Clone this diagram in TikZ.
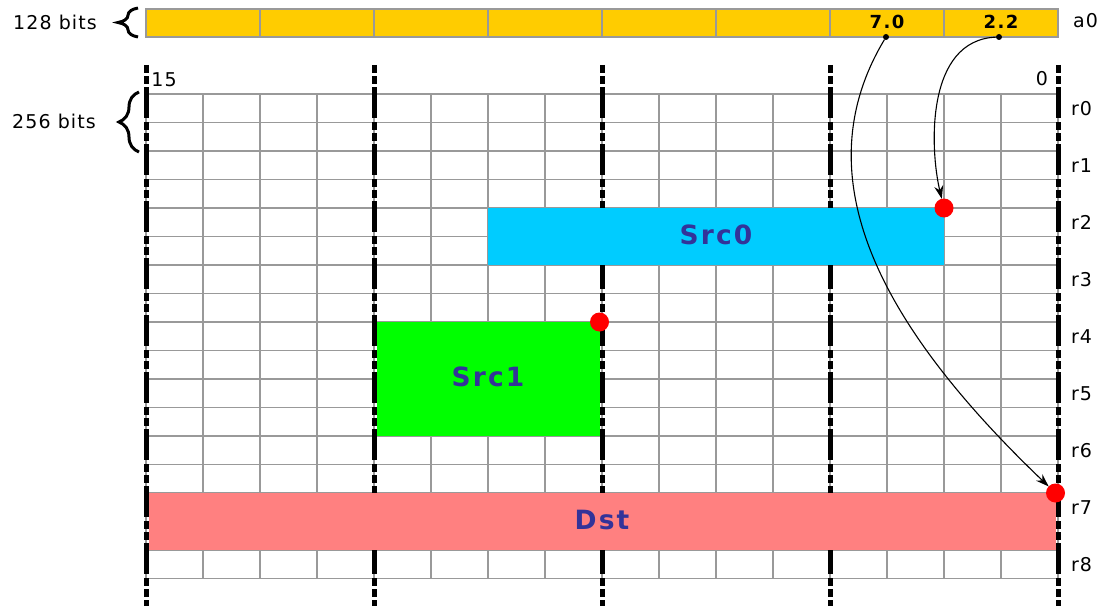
\documentclass[tikz,border=0pt]{standalone}
\usepackage{fontspec}
\setmainfont{DejaVu Sans}
\usetikzlibrary{positioning, arrows.meta, decorations.pathreplacing}
\definecolor{clBAR} {HTML}{FFCC00}
\definecolor{clSRC0}{HTML}{00CCFF}
\definecolor{clSRC1}{HTML}{00FF00}
\definecolor{clDST} {HTML}{FF8080}
\definecolor{clNAME}{HTML}{333399}
\definecolor{clGRID}{HTML}{999999}
\definecolor{clHOT} {HTML}{FF0000}

\begin{document}
\begin{tikzpicture}[
    x=1pt, y=-1pt,
    every node/.style={font=\fontsize{19}{22}\selectfont\addfontfeature{LetterSpace=6},
        text=black, inner sep=0pt, outer sep=0pt},
    gridline/.style={draw=clGRID, line width=1.5pt},
    laneline/.style={draw=black, line width=5pt,
        dash pattern=on 8pt off 3pt on 8pt off 3pt on 31pt off 4pt},
    cell/.style={draw=clGRID, line width=1.5pt, fill=clBAR,
        minimum width=114pt, minimum height=28pt, anchor=north east},
    cellval/.style={font=\fontsize{18}{20}\selectfont\bfseries\addfontfeature{LetterSpace=8},
        yshift=1.5pt},
    regbox/.style={anchor=north west, text=clNAME, text depth=4pt,
        font=\fontsize{26.5}{30}\selectfont\bfseries\addfontfeature{LetterSpace=8}},
    hotdot/.style={circle, fill=clHOT, minimum size=19pt},
    tap/.style={circle, fill=black, minimum size=6pt},
    link/.style={-{Stealth[length=13pt, width=9pt]}, draw=black, line width=1.1pt},
    brace/.style={decorate, decoration={brace, amplitude=20pt}, line width=3pt}
]

% ── BACKGROUND ─────────────────────────────────────────────────
\fill[white] (0,0) rectangle (1100,610);
\useasboundingbox (0,0) rectangle (1100,610);

% ── REGISTER GRID r0..r8 ───────────────────────────────────────
\foreach \k in {0,...,17}
    \draw[gridline] (146,{94+28.5*\k}) -- (1058,{94+28.5*\k});
\foreach \i in {0,...,16}
    \draw[gridline] ({146+57*\i},94) -- ({146+57*\i},578.5);

% 128-bit lanes
\foreach \i in {0,...,4}
    \draw[laneline] ({146+228*\i},65) -- ({146+228*\i},606);

% ── SCALAR REGISTER a0 ─────────────────────────────────────────
\foreach \i in {0,...,7}
    \node[cell] (c\i) at ({1058-114*\i},9) {};

\node[cellval] (v1) at (c1.center) {7.0};
\node[cellval] (v0) at (c0.center) {2.2};

\node[anchor=west] (aname) at (1073,21) {a0};

% ── OPERANDS ───────────────────────────────────────────────────
\node[regbox, fill=clSRC0, minimum width=456pt, minimum height=57pt]
    (src0) at (488,208) {Src0};
\node[regbox, fill=clSRC1, minimum width=223pt, minimum height=114pt]
    (src1) at (376.5,322) {Src1};
\node[regbox, fill=clDST, minimum width=907pt, minimum height=57pt]
    (dst) at (148.5,493) {Dst};

\node[hotdot] (p0) at (src0.north east) {};
\node[hotdot] (p1) at (src1.north east) {};
\node[hotdot] (pd) at (dst.north east) {};

% ── SUBREGISTER LINKS ──────────────────────────────────────────
\node[tap] (t1) at ([xshift=-1pt]c1.south) {};
\node[tap] (t0) at ([xshift=-2pt]c0.south) {};

\draw[link] (t1) .. controls (800,180) and (885,330) .. (pd);
\draw[link] (t0) .. controls (925,40) and (930,150) .. (p0);

% ── LABELS ─────────────────────────────────────────────────────
\node (w128) at (55,22) {128 bits};
\node (w256) at (54,121.5) {256 bits};
\draw[brace] (138,37) -- (138,8);
\draw[brace] (139,152) -- (139,92);

\node (hi) at (164,79.5) {15};
\node (lo) at (1042,78.5) {0};

\foreach \k in {0,...,8}
    \node[anchor=west] (r\k) at (1071,{108.25+57*\k}) {r\k};

\end{tikzpicture}
\end{document}
